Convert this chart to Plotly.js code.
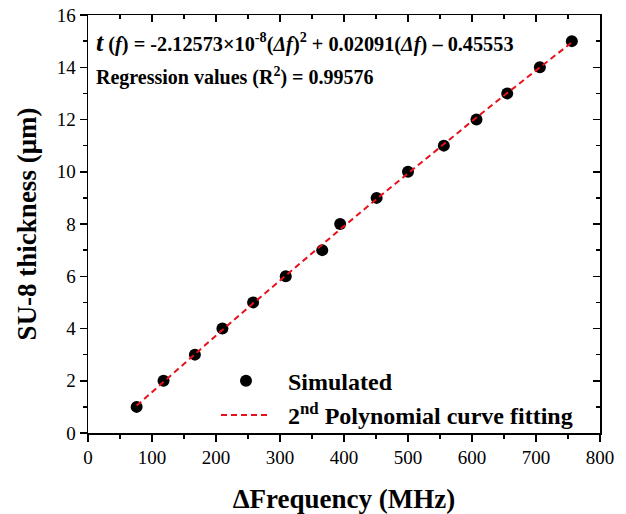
<!DOCTYPE html>
<html>
<head>
<meta charset="utf-8">
<script src="https://cdn.plot.ly/plotly-3.0.1.min.js"></script>
<style>html,body{margin:0;padding:0;background:#fff;}#chart{width:626px;height:514px;}</style>
</head>
<body>
<div id="chart"></div>
<script>
// Data
const deltaFrequency = [76, 118, 167, 210, 258, 309, 366, 394, 451, 500, 556, 607, 655, 706, 756];
const thickness = [1, 2, 3, 4, 5, 6, 7, 8, 9, 10, 11, 12, 13, 14, 15];
const xTickValues = [0, 100, 200, 300, 400, 500, 600, 700, 800];
const yTickValues = [0, 2, 4, 6, 8, 10, 12, 14, 16];
const seriesNames = ["\u00A0\u00A0<b>Simulated</b>", "\u00A0\u00A0<b>2<sup>nd</sup> Polynomial curve fitting</b>"];
const equationText = "<b><span style='font-size:26px'><i>t</i></span> (<i>f</i>) = -2.12573×10<sup>-8</sup>(<i>Δf</i>)<sup>2</sup> + 0.02091(<i>Δf</i>) – 0.45553</b>";
const regressionText = "<b>Regression values (R<sup>2</sup>) = 0.99576</b>";

// least-squares 2nd-order polynomial fit of the data
function polyfit2(xs, ys) {
  let S = [0,0,0,0,0], T = [0,0,0];
  for (let i = 0; i < xs.length; i++) {
    let p = 1;
    for (let k = 0; k < 5; k++) { S[k] += p; if (k < 3) T[k] += p * ys[i]; p *= xs[i]; }
  }
  const A = [[S[0],S[1],S[2],T[0]],[S[1],S[2],S[3],T[1]],[S[2],S[3],S[4],T[2]]];
  for (let c = 0; c < 3; c++) {
    for (let r = c + 1; r < 3; r++) {
      const f = A[r][c] / A[c][c];
      for (let k = c; k < 4; k++) A[r][k] -= f * A[c][k];
    }
  }
  const coef = [0,0,0];
  for (let r = 2; r >= 0; r--) {
    let s = A[r][3];
    for (let k = r + 1; k < 3; k++) s -= A[r][k] * coef[k];
    coef[r] = s / A[r][r];
  }
  return coef;
}
const cf = polyfit2(deltaFrequency, thickness);
const fitY = deltaFrequency.map(x => cf[0] + cf[1]*x + cf[2]*x*x);

const FONT = "'Liberation Serif', 'Times New Roman', serif";

const traces = [
  {x: deltaFrequency, y: thickness, type: 'scatter', mode: 'markers', name: seriesNames[0],
   marker: {color: '#000', size: 12}},
  {x: deltaFrequency, y: fitY, type: 'scatter', mode: 'lines', name: seriesNames[1],
   line: {color: '#e8101a', width: 2, dash: '6px,4px'}},
  {x: [], y: [], xaxis: 'x2', yaxis: 'y2', type: 'scatter', showlegend: false, hoverinfo: 'skip'}
];

const axisCommon = {
  showgrid: false, zeroline: false, showline: true, linecolor: '#000', linewidth: 1.5,
  tickcolor: '#000', tickwidth: 1.5, ticklen: 7,
  tickfont: {family: FONT, size: 19, color: '#000'}
};

const layout = {
  width: 626, height: 514,
  margin: {l: 88, r: 26, t: 15, b: 81},
  paper_bgcolor: '#fff', plot_bgcolor: '#fff',
  showlegend: true,
  font: {family: FONT, color: '#000'},
  xaxis: Object.assign({}, axisCommon, {
    range: [0, 800], tickmode: 'array', tickvals: xTickValues, ticks: 'outside',
    minor: {dtick: 50, ticks: 'outside', ticklen: 4, tickcolor: '#000', tickwidth: 1.5},
    title: {text: '<b>ΔFrequency (MHz)</b>', font: {family: FONT, size: 27, color: '#000'}, standoff: 23}
  }),
  yaxis: Object.assign({}, axisCommon, {
    range: [0, 16], tickmode: 'array', tickvals: yTickValues, ticks: 'outside',
    minor: {dtick: 1, ticks: 'outside', ticklen: 4, tickcolor: '#000', tickwidth: 1.5},
    title: {text: '<b>SU-8 thickness (μm)</b>', font: {family: FONT, size: 27, color: '#000'}, standoff: 12}
  }),
  xaxis2: Object.assign({}, axisCommon, {
    overlaying: 'x', side: 'top', anchor: 'y2', range: [0, 800], tickmode: 'array', tickvals: xTickValues,
    ticks: 'inside', showticklabels: false,
    minor: {dtick: 50, ticks: 'inside', ticklen: 4, tickcolor: '#000', tickwidth: 1.5}
  }),
  yaxis2: Object.assign({}, axisCommon, {
    overlaying: 'y', side: 'right', anchor: 'x2', range: [0, 16], tickmode: 'array', tickvals: yTickValues,
    ticks: 'inside', showticklabels: false,
    minor: {dtick: 1, ticks: 'inside', ticklen: 4, tickcolor: '#000', tickwidth: 1.5}
  }),
  legend: {
    x: 0.25, y: 0.178, xanchor: 'left', yanchor: 'top', bgcolor: 'rgba(0,0,0,0)',
    font: {family: FONT, size: 24, color: '#000'}, itemwidth: 50, tracegroupgap: 0
  },
  annotations: [
    {xref: 'paper', yref: 'paper', x: 0.012, y: 0.935, xanchor: 'left', yanchor: 'middle', showarrow: false,
     text: equationText, font: {family: FONT, size: 20.3, color: '#000'}},
    {xref: 'paper', yref: 'paper', x: 0.012, y: 0.853, xanchor: 'left', yanchor: 'middle', showarrow: false,
     text: regressionText, font: {family: FONT, size: 20, color: '#000'}}
  ]
};

Plotly.newPlot('chart', traces, layout, {staticPlot: true, displayModeBar: false});
</script>
</body>
</html>
